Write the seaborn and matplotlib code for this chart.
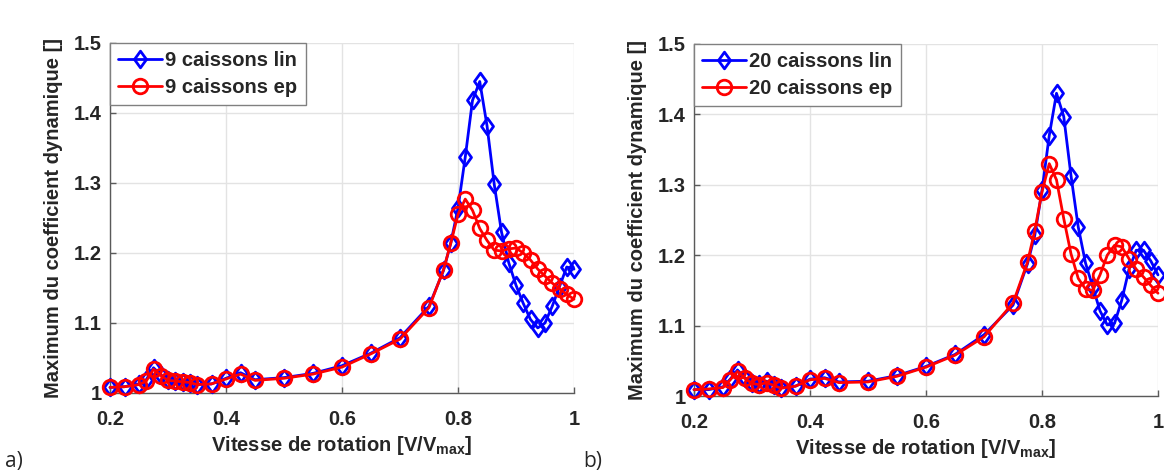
import numpy as np
import pandas as pd
import matplotlib
matplotlib.use("Agg")
import matplotlib.pyplot as plt
from matplotlib.path import Path
import seaborn as sns

# ---------------- data ----------------
speed = [0.2, 0.225, 0.25, 0.2625, 0.275, 0.2875, 0.3, 0.3125, 0.325, 0.3375,
         0.35, 0.375, 0.4, 0.425, 0.45, 0.5, 0.55, 0.6, 0.65, 0.7,
         0.75, 0.775, 0.7875, 0.8, 0.8125, 0.825, 0.8375, 0.85, 0.8625, 0.875,
         0.8875, 0.9, 0.9125, 0.925, 0.9375, 0.95, 0.9625, 0.975, 0.9875, 1.0]

lin_9 = [1.008, 1.009, 1.013, 1.019, 1.036, 1.026, 1.019, 1.017, 1.016, 1.014,
         1.012, 1.013, 1.021, 1.029, 1.019, 1.022, 1.028, 1.039, 1.057, 1.079,
         1.124, 1.175, 1.214, 1.264, 1.337, 1.418, 1.445, 1.382, 1.298, 1.230,
         1.186, 1.154, 1.128, 1.105, 1.093, 1.100, 1.124, 1.152, 1.180, 1.177]
ep_9 = [1.008, 1.009, 1.012, 1.017, 1.034, 1.025, 1.018, 1.017, 1.016, 1.015,
        1.012, 1.013, 1.020, 1.027, 1.018, 1.021, 1.027, 1.037, 1.056, 1.077,
        1.122, 1.176, 1.214, 1.255, 1.277, 1.261, 1.235, 1.218, 1.204, 1.203,
        1.206, 1.207, 1.200, 1.190, 1.177, 1.167, 1.157, 1.149, 1.141, 1.134]

lin_20 = [1.009, 1.009, 1.013, 1.024, 1.037, 1.026, 1.019, 1.017, 1.021, 1.016,
          1.012, 1.014, 1.024, 1.026, 1.020, 1.021, 1.029, 1.042, 1.059, 1.087,
          1.129, 1.188, 1.228, 1.292, 1.370, 1.430, 1.397, 1.313, 1.240, 1.189,
          1.155, 1.121, 1.101, 1.103, 1.136, 1.180, 1.207, 1.207, 1.192, 1.172]
ep_20 = [1.009, 1.010, 1.012, 1.023, 1.035, 1.025, 1.018, 1.016, 1.019, 1.015,
         1.011, 1.014, 1.023, 1.025, 1.019, 1.020, 1.028, 1.041, 1.058, 1.084,
         1.132, 1.190, 1.235, 1.290, 1.330, 1.307, 1.252, 1.202, 1.167, 1.152,
         1.150, 1.172, 1.200, 1.214, 1.212, 1.195, 1.180, 1.169, 1.157, 1.146]

labels_a = ["9 caissons lin", "9 caissons ep"]
labels_b = ["20 caissons lin", "20 caissons ep"]
xticks = [0.2, 0.4, 0.6, 0.8, 1.0]
xticklabels = ["0.2", "0.4", "0.6", "0.8", "1"]
yticks = [1.0, 1.1, 1.2, 1.3, 1.4, 1.5]
yticklabels = ["1", "1.1", "1.2", "1.3", "1.4", "1.5"]

# ---------------- style ----------------
sns.set_theme(style="whitegrid")
plt.rcParams["font.family"] = ["Liberation Sans", "DejaVu Sans"]
plt.rcParams["mathtext.fontset"] = "custom"
plt.rcParams["mathtext.rm"] = "Liberation Sans:bold"
plt.rcParams["mathtext.bf"] = "Liberation Sans:bold"
plt.rcParams["mathtext.it"] = "Liberation Sans:bold"

FS = 14.5

diamond = Path([(0, 1), (0.72, 0), (0, -1), (-0.72, 0), (0, 1)],
               [Path.MOVETO, Path.LINETO, Path.LINETO, Path.LINETO, Path.CLOSEPOLY])

fig = plt.figure(figsize=(11.64, 4.76), dpi=100)
ax_a = fig.add_axes([110 / 1164, 83 / 476, 464 / 1164, 350 / 476])
ax_b = fig.add_axes([694 / 1164, 80 / 476, 464 / 1164, 352 / 476])


def draw(ax, lin, ep, labels):
    df = pd.DataFrame({"x": speed, "lin": lin, "ep": ep})
    sns.lineplot(data=df, x="x", y="lin", ax=ax, color="#0000FF", linewidth=2,
                 marker=diamond, markersize=12, markerfacecolor="none",
                 markeredgecolor="#0000FF", markeredgewidth=2,
                 label=labels[0], clip_on=False, zorder=3)
    sns.lineplot(data=df, x="x", y="ep", ax=ax, color="#FF0000", linewidth=2,
                 marker="o", markersize=10.5, markerfacecolor="none",
                 markeredgecolor="#FF0000", markeredgewidth=2,
                 label=labels[1], clip_on=False, zorder=4)
    ax.set_xlim(0.2, 1.0)
    ax.set_ylim(1.0, 1.5)
    ax.set_xticks(xticks)
    ax.set_xticklabels(xticklabels, fontsize=FS, fontweight="bold")
    ax.set_yticks(yticks)
    ax.set_yticklabels(yticklabels, fontsize=FS, fontweight="bold")
    ax.grid(True, color="#e3e3e3", linewidth=1)
    ax.set_facecolor("white")
    for s in ["top", "right"]:
        ax.spines[s].set_visible(False)
    for s in ["left", "bottom"]:
        ax.spines[s].set_visible(True)
        ax.spines[s].set_color("#5a5a5a")
        ax.spines[s].set_linewidth(1)
    ax.tick_params(direction="in", length=4, width=1, color="#5a5a5a",
                   left=True, bottom=True, labelcolor="#262626")
    ax.tick_params(axis="x", pad=12)
    ax.tick_params(axis="y", pad=6)
    ax.set_xlabel(r"Vitesse de rotation [V/V$_{\mathbf{max}}$]", fontsize=FS,
                  fontweight="bold", color="#262626", labelpad=4)
    ax.set_ylabel("Maximum du coefficient dynamique []", fontsize=FS,
                  fontweight="bold", color="#262626", labelpad=8)
    leg = ax.legend(loc="upper left", borderaxespad=0, fancybox=False,
                    framealpha=1, edgecolor="#808080",
                    prop={"weight": "bold", "size": FS}, handlelength=2.2,
                    handletextpad=0.15, borderpad=0.4, labelspacing=0.4)
    leg.get_frame().set_linewidth(1)


draw(ax_a, lin_9, ep_9, labels_a)
draw(ax_b, lin_20, ep_20, labels_b)

fig.text(5 / 1164, 1 - 462 / 476, "a)", fontsize=15, va="center", ha="left",
         family=["Open Sans", "DejaVu Sans"])
fig.text(583 / 1164, 1 - 462 / 476, "b)", fontsize=15, va="center", ha="left",
         family=["Open Sans", "DejaVu Sans"])

fig.savefig("out.png", dpi=100)
